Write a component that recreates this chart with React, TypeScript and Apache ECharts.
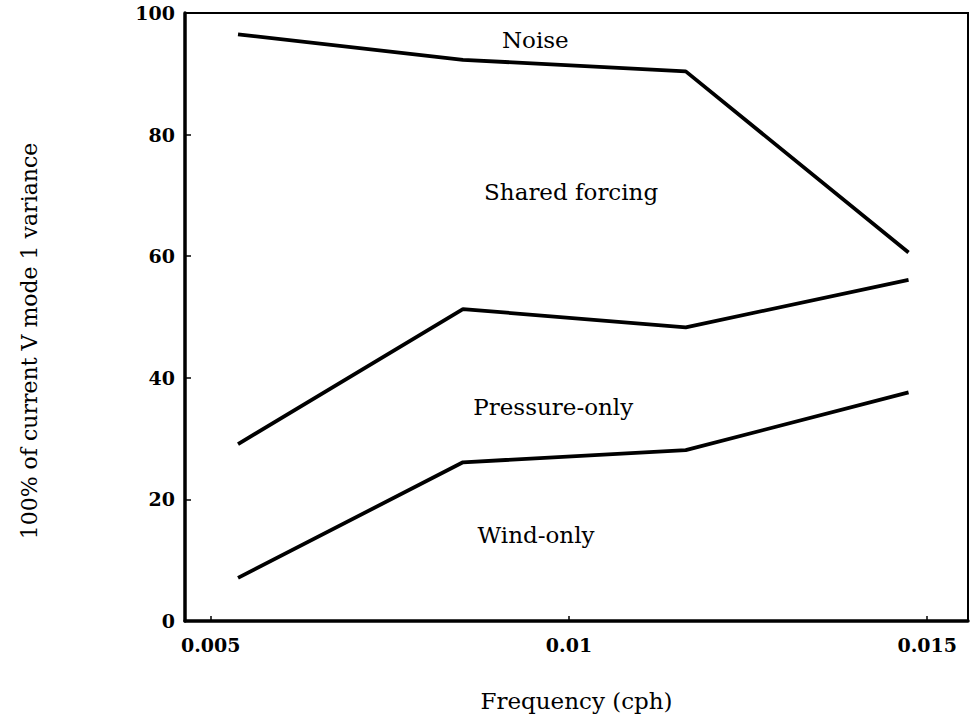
import React, { useEffect, useRef } from 'react';
import * as echarts from 'echarts';

// Frequencies (cph) of the four estimates
const frequency = [0.00538, 0.00852, 0.01163, 0.01474];
// Upper boundary of each variance component (cumulative %)
const windOnlyTop = [7.1, 26.1, 28.1, 37.6];
const pressureOnlyTop = [29.1, 51.3, 48.3, 56.1];
const sharedForcingTop = [96.5, 92.3, 90.4, 60.6];

const xTickValues = [0.005, 0.01, 0.015];
const xTickLabels = ['0.005', '0.01', '0.015'];
const yTickValues = [0, 20, 40, 60, 80, 100];

const regionNames = ['Noise', 'Shared forcing', 'Pressure-only', 'Wind-only'];
const regionX = [0.00953, 0.01003, 0.00978, 0.00954];
const regionY = [95.5, 70.6, 35.2, 14.2];

const FONT = 'DejaVu Serif';

export default function App() {
  const ref = useRef<HTMLDivElement>(null);
  useEffect(() => {
    if (!ref.current) return;
    const chart = echarts.init(ref.current, null, { renderer: 'svg' });
    const lineStyle = { color: '#000', width: 3.8 };
    const lineSeries = (name: string, vals: number[]) => ({
      name,
      type: 'line',
      data: frequency.map((f, i) => [f, vals[i]]),
      showSymbol: false,
      symbol: 'none',
      lineStyle,
      z: 3,
    });
    chart.setOption({
      animation: false,
      backgroundColor: '#fff',
      grid: {
        left: 185,
        right: 5,
        top: 13,
        bottom: 106,
        show: true,
        borderColor: '#000',
        borderWidth: 2,
        backgroundColor: 'transparent',
      },
      xAxis: {
        type: 'value',
        min: 0.00464,
        max: 0.01557,
        name: 'Frequency (cph)',
        nameLocation: 'middle',
        nameGap: 68,
        nameTextStyle: { fontFamily: FONT, fontSize: 23, color: '#000' },
        axisLine: { show: true, lineStyle: { color: '#000', width: 3.5 } },
        axisTick: {
          show: true,
          inside: true,
          length: 5,
          customValues: xTickValues,
          lineStyle: { color: '#000', width: 1.5 },
        },
        axisLabel: {
          customValues: xTickValues,
          formatter: (v: number) => {
            const i = xTickValues.findIndex((t) => Math.abs(t - v) < 1e-9);
            return i >= 0 ? xTickLabels[i] : '';
          },
          fontFamily: FONT,
          fontWeight: 'bold',
          fontSize: 19,
          color: '#000',
          margin: 14,
        },
        splitLine: { show: false },
      },
      yAxis: {
        type: 'value',
        min: 0,
        max: 100,
        interval: 20,
        name: '100% of current V mode 1 variance',
        nameLocation: 'middle',
        nameGap: 145,
        nameTextStyle: {
          fontFamily: FONT,
          fontSize: 22,
          color: '#000',
          padding: [0, 48, 0, 0],
        },
        axisLine: { show: true, lineStyle: { color: '#000', width: 3.5 } },
        axisTick: {
          show: true,
          inside: true,
          length: 6,
          customValues: yTickValues,
          lineStyle: { color: '#000', width: 1.5 },
        },
        axisLabel: {
          fontFamily: FONT,
          fontWeight: 'bold',
          fontSize: 19,
          color: '#000',
          margin: 10,
        },
        splitLine: { show: false },
      },
      series: [
        lineSeries('Wind-only', windOnlyTop),
        lineSeries('Pressure-only', pressureOnlyTop),
        lineSeries('Shared forcing', sharedForcingTop),
        {
          name: 'labels',
          type: 'scatter',
          symbolSize: 0,
          data: regionNames.map((n, i) => ({ value: [regionX[i], regionY[i]], name: n })),
          label: {
            show: true,
            position: 'inside',
            formatter: (p: any) => p.name,
            fontFamily: FONT,
            fontSize: 23,
            color: '#000',
            opacity: 1,
          },
          silent: true,
          z: 4,
        },
      ],
    });
    return () => chart.dispose();
  }, []);
  return (
    <div
      ref={ref}
      style={{ position: 'fixed', left: 0, top: 0, width: 973, height: 727, background: '#fff' }}
    />
  );
}
